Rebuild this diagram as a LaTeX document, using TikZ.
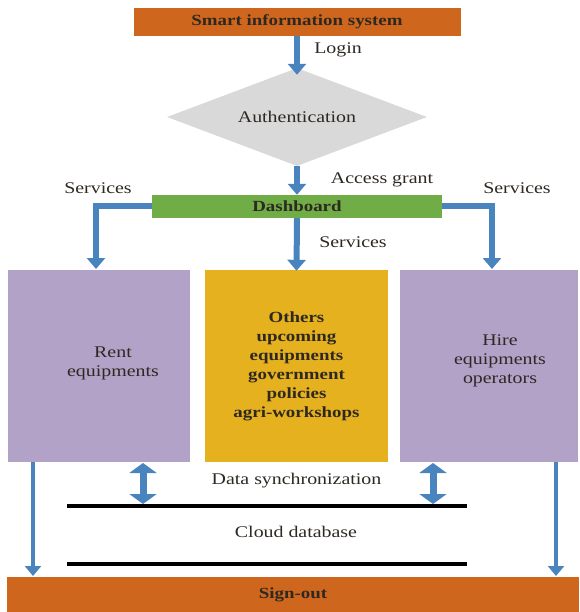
\documentclass[tikz,border=0pt]{standalone}
\usepackage{fontspec}
\setmainfont{Liberation Serif}[FakeStretch=1.22]
\usetikzlibrary{arrows.meta,shapes.geometric}
\definecolor{orangebox}{HTML}{CF661D}
\definecolor{greenbox}{HTML}{70AD47}
\definecolor{greydia}{HTML}{D9D9D9}
\definecolor{purplebox}{HTML}{B2A2C8}
\definecolor{yellowbox}{HTML}{E5B11F}
\definecolor{arrowblue}{HTML}{4A84BE}
\definecolor{txt}{HTML}{2E2822}
\tikzset{
  box/.style={draw=none, inner sep=0pt, text=txt, font=\bfseries\fontsize{15.5}{19}\selectfont, align=center},
  plainbox/.style={inner sep=0pt, text=txt, font=\fontsize{16.3}{19}\selectfont, align=center},
  lbl/.style={text=txt, font=\fontsize{16.3}{18}\selectfont, inner sep=0pt},
  flow/.style={draw=arrowblue, line width=6pt, -{Triangle[width=18pt,length=11pt]}},
  thinflow/.style={draw=arrowblue, line width=4.5pt, -{Triangle[width=16pt,length=10pt]}},
  sync/.style={draw=arrowblue, line width=7pt, {Triangle[width=27pt,length=10pt]}-{Triangle[width=27pt,length=10pt]}},
  dbline/.style={draw=black, line width=4pt}
}
\begin{document}
\begin{tikzpicture}[x=1pt,y=-1pt]
\useasboundingbox (0,0) rectangle (579,612);
\node[box, fill=orangebox, minimum width=327pt, minimum height=28pt] (top) at (297,22) {Smart information system};
\node[box, diamond, fill=greydia, aspect=2.65, minimum width=260pt, minimum height=98pt, font=\fontsize{16.3}{18}\selectfont] (auth) at (297,117) {Authentication};
\node[box, fill=greenbox, minimum width=290pt, minimum height=23pt] (dash) at (297,206.5) {Dashboard};
\node[box, fill=purplebox, minimum width=182pt, minimum height=192pt] (rent) at (99,366) {};
\node[plainbox] (renttxt) at (113,363) {Rent\\equipments};
\node[box, fill=yellowbox, minimum width=183pt, minimum height=192pt] (others) at (296.5,366) {Others\\upcoming\\equipments\\government\\policies\\agri-workshops};
\node[box, fill=purplebox, minimum width=178pt, minimum height=192pt] (hire) at (489,366) {};
\node[plainbox] (hiretxt) at (500,361) {Hire\\equipments\\operators};
\node[box, fill=orangebox, minimum width=572pt, minimum height=35pt] (signout) at (293,594.5) {Sign-out};

\node[lbl] (login) at (338,50) {Login};
\node[lbl] (access) at (382,180) {Access grant};
\node[lbl] (servl) at (98,188) {Services};
\node[lbl] (servr) at (517,188) {Services};
\node[lbl] (servm) at (353,242) {Services};
\node[lbl] (sync) at (296.5,481) {Data synchronization};
\node[lbl] (cloud) at (296,532) {Cloud database};

\coordinate (rentin) at (96,269);
\coordinate (hirein) at (492,269);
\coordinate (rentout) at (33,462);
\coordinate (signl) at (33,576);
\coordinate (hireout) at (556,462);
\coordinate (signr) at (556,576);
\coordinate (syncla) at (143,463);
\coordinate (synclb) at (143,504);
\coordinate (syncra) at (433,463);
\coordinate (syncrb) at (433,504);
\coordinate (db1a) at (67,506);
\coordinate (db1b) at (467,506);
\coordinate (db2a) at (67,564);
\coordinate (db2b) at (467,564);

\draw[flow] (top.south) -- ([yshift=-7pt]auth.north);
\draw[flow] (auth.south) -- (dash.north);
\draw[flow] (dash.west) -| (rentin);
\draw[flow] (dash.east) -| (hirein);
\draw[flow] (dash.south) -- ([yshift=-1pt]others.north);
\draw[thinflow] (rentout) -- (signl);
\draw[thinflow] (hireout) -- (signr);
\draw[sync] (syncla) -- (synclb);
\draw[sync] (syncra) -- (syncrb);
\draw[dbline] (db1a) -- (db1b);
\draw[dbline] (db2a) -- (db2b);
\end{tikzpicture}
\end{document}
